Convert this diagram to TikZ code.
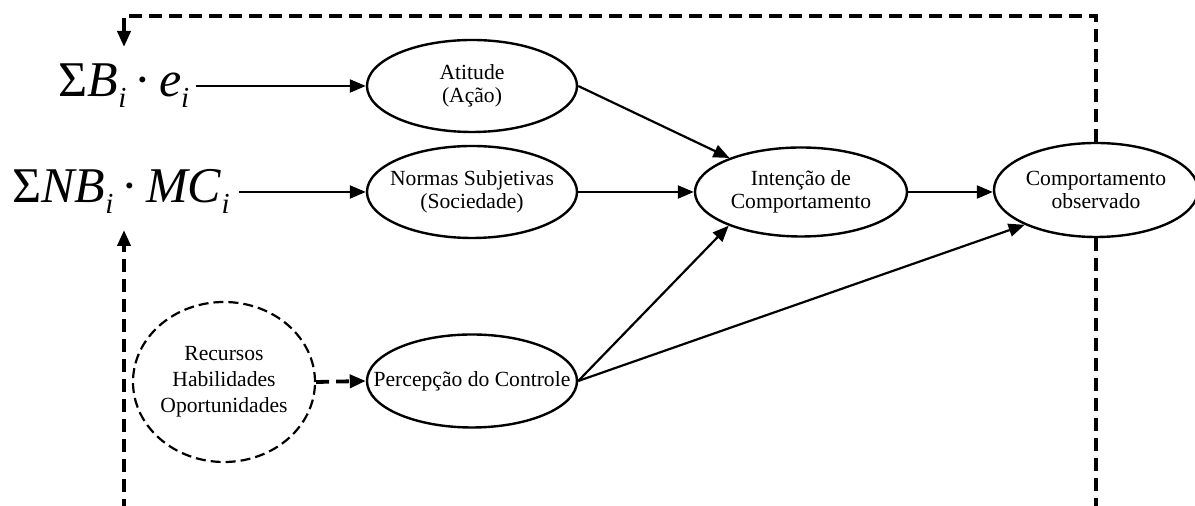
\documentclass[tikz,border=0pt]{standalone}
\usepackage{fontspec}
\setmainfont{Liberation Serif}
\usetikzlibrary{shapes.geometric,arrows.meta}
% subscript i and spaced product dot for the large formulas
\newcommand{\subi}{\raisebox{-5.5pt}{\fontsize{14.5}{15}\selectfont\itshape i}}
\newcommand{\pdot}{\hspace{4pt}·\hspace{4pt}}
\begin{document}
\begin{tikzpicture}[x=0.5pt,y=-0.5pt,
  ell/.style={ellipse, draw, line width=1.2pt, inner sep=0pt,
              minimum width=105pt, minimum height=46pt},
  lbl/.style={align=center, font=\fontsize{10.8}{11.6}\selectfont, inner sep=0pt},
  formula/.style={inner sep=1.5pt, font=\fontsize{25}{30}\selectfont},
  tip/.style={-{Triangle[length=8pt,width=6.5pt]}},
  arr/.style={line width=1.1pt, tip},
  fb/.style={line width=1.9pt, dash pattern=on 6.5pt off 3.5pt},
  fbarr/.style={fb, tip},
  dcirc/.style={ellipse, draw, line width=1.1pt, dash pattern=on 5pt off 2.5pt,
                inner sep=0pt, minimum width=91pt, minimum height=80pt}
]
\useasboundingbox (0,0) rectangle (1195,506);

% formulas
\node[formula, anchor=base] (f1) at (124,97)
  {Σ\textit{B}\subi\pdot\textit{e}\subi};
\node[formula, anchor=base] (f2) at (121,203)
  {Σ\textit{NB}\subi\pdot\textit{MC}\subi};

% ellipses
\node[ell, label={[lbl]center:{Atitude\\(Ação)}}] (att) at (472,86) {};
\node[ell, label={[lbl]center:{Normas Subjetivas\\(Sociedade)}}] (norm) at (472,192) {};
\node[ell, minimum width=106pt, minimum height=44.5pt,
      label={[lbl]center:{Intenção de\\Comportamento}}] (int) at (801,192) {};
\node[ell, minimum width=102pt, minimum height=47pt,
      label={[lbl]center:{Comportamento\\observado}}] (comp) at (1096,190) {};
\node[ell, minimum height=46.5pt,
      label={[lbl]center:{Percepção do Controle}}] (perc) at (472,381) {};
\node[dcirc, label={[lbl, font=\fontsize{10.8}{13}\selectfont]center:{Recursos\\Habilidades\\Oportunidades}}] (rec) at (224,382) {};

% feedback end points
\coordinate (fbtop) at (124,47);
\coordinate (fbbot) at (124,230);

% solid connectors
\draw[arr, shorten <=1.5pt] (f1.east |- att.west) -- (att.west);
\draw[arr, shorten <=3pt] (f2.east |- norm.west) -- (norm.west);
\draw[arr] (att.east) -- (int);
\draw[arr] (norm.east) -- (norm.east -| int.west);
\draw[arr] (perc.east) -- (int.205);
\draw[arr] (perc.east) -- (comp.206);
\draw[arr] (int.east) -- (int.east -| comp.west);

% dashed connectors
\draw[fbarr] (rec.east) -- (perc.west);
\draw[fbarr] (comp.north) |- (fbtop |- 0,16) -- (fbtop);
\draw[fb] (comp.south) -- (comp.south |- 0,512);
\draw[fbarr] (fbbot |- 0,512) -- (fbbot);
\end{tikzpicture}
\end{document}
